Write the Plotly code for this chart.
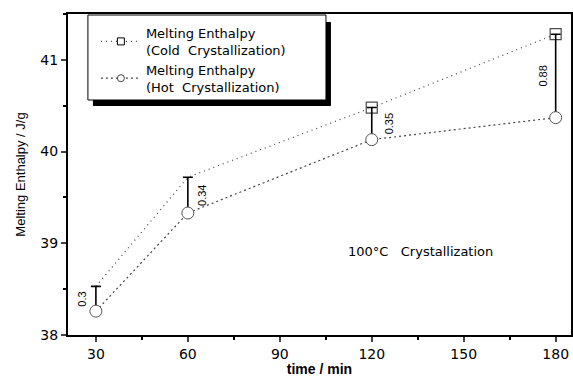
import plotly.graph_objects as go

time_min = [30, 60, 120, 180]
cold_enthalpy = [38.53, 39.72, 40.48, 41.28]
hot_enthalpy = [38.26, 39.33, 40.13, 40.37]
diff_labels = ["0.3", "0.34", "0.35", "0.88"]
x_ticks = [30, 60, 90, 120, 150, 180]
y_ticks = [38, 39, 40, 41]

label_shift = [-14, 14, 17, -13]

diffs = [c - h for c, h in zip(cold_enthalpy, hot_enthalpy)]

FONT = "Liberation Sans, Arial, sans-serif"
WIDE = "DejaVu Sans, sans-serif"

cold_line = dict(color="#444", width=1.2, dash="1px,4px")
hot_line = dict(color="#444", width=1.2, dash="2px,3px")

fig = go.Figure()

fig.add_trace(go.Scatter(
    x=time_min, y=cold_enthalpy, mode="lines+markers", showlegend=False,
    line=cold_line,
    marker=dict(symbol="square", size=[0, 0, 11, 11], color="white",
                line=dict(color="black", width=1.2)),
))

fig.add_trace(go.Scatter(
    x=time_min, y=hot_enthalpy, mode="lines+markers", showlegend=False,
    line=hot_line,
    marker=dict(symbol="circle", size=12, color="white",
                line=dict(color="#555", width=1)),
    error_y=dict(type="data", symmetric=False, array=diffs,
                 arrayminus=[0] * len(diffs), color="black",
                 thickness=1.6, width=5),
))

# legend entries
fig.add_trace(go.Scatter(
    x=[None], y=[None], mode="lines+markers",
    name="Melting Enthalpy<br>(Cold  Crystallization)",
    line=cold_line,
    marker=dict(symbol="square", size=7, color="white",
                line=dict(color="black", width=1)),
))
fig.add_trace(go.Scatter(
    x=[None], y=[None], mode="lines+markers",
    name="Melting Enthalpy<br>(Hot  Crystallization)",
    line=hot_line,
    marker=dict(symbol="circle", size=7, color="white",
                line=dict(color="#444", width=1)),
))

for x, h, c, lab, sh in zip(time_min, hot_enthalpy, cold_enthalpy,
                            diff_labels, label_shift):
    fig.add_annotation(x=x, y=(h + c) / 2, text=lab, textangle=-90,
                       showarrow=False, xshift=sh,
                       font=dict(family=FONT, size=11, color="black"))

fig.add_annotation(x=(347 - 68) / 505, y=(335 - 251) / 321,
                   xref="paper", yref="paper",
                   text="100°C   Crystallization", showarrow=False,
                   xanchor="left", yanchor="middle",
                   font=dict(family=WIDE, size=13, color="black"))

# legend shadow and box
fig.add_shape(type="rect", xref="paper", yref="paper",
              x0=(93 - 68) / 505, x1=(332 - 68) / 505,
              y0=(335 - 106) / 321, y1=(335 - 22) / 321,
              fillcolor="black", line=dict(width=0), layer="above")
fig.add_shape(type="rect", xref="paper", yref="paper",
              x0=(88 - 68) / 505, x1=(327 - 68) / 505,
              y0=(335 - 100) / 321, y1=(335 - 15) / 321,
              fillcolor="white", line=dict(color="black", width=1),
              layer="above")

fig.update_layout(
    width=573, height=377,
    margin=dict(l=68, r=0, t=14, b=42),
    plot_bgcolor="white", paper_bgcolor="white",
    font=dict(family=FONT, size=13, color="black"),
    legend=dict(x=(96 - 68) / 505, y=(335 - 18) / 321,
                xanchor="left", yanchor="top",
                borderwidth=0, bgcolor="rgba(0,0,0,0)",
                font=dict(family=WIDE, size=13),
                itemwidth=40,
                itemsizing="trace", tracegroupgap=0),
    showlegend=True,
    xaxis=dict(range=[20.9, 185], tickvals=x_ticks, ticks="outside",
               ticklen=5, tickwidth=2, showline=True, linewidth=2,
               linecolor="black", mirror=True, showgrid=False,
               zeroline=False, tickfont=dict(family=WIDE, size=14),
               minor=dict(dtick=15, ticks="outside", ticklen=3,
                          tickwidth=1.5, tickcolor="black"),
               title=dict(text="<b>time / min</b>", standoff=2,
                          font=dict(family=FONT, size=14))),
    yaxis=dict(range=[38, 41.5], tickvals=y_ticks, ticks="outside",
               ticklen=5, tickwidth=2, showline=True, linewidth=2,
               linecolor="black", mirror=True, showgrid=False,
               zeroline=False, tickfont=dict(family=WIDE, size=14),
               minor=dict(dtick=0.5, ticks="outside", ticklen=3,
                          tickwidth=1.5, tickcolor="black"),
               title=dict(text="Melting Enthalpy / J/g", standoff=12,
                          font=dict(family=FONT, size=13))),
)

fig.write_html("out.html", config={"displayModeBar": False},
               post_script="document.body.style.margin='0';"
                           "document.body.style.overflow='hidden';")
